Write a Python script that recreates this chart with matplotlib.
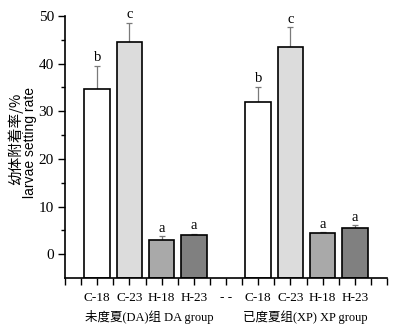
import matplotlib.pyplot as plt
import numpy as np

# larvae setting rate (%) for the two groups
treatments = ['C-18', 'C-23', 'H-18', 'H-23']
da_rate = [34.6, 44.5, 3.0, 4.0]
da_err = [5.0, 4.1, 0.8, 0.3]
da_sig = ['b', 'c', 'a', 'a']
xp_rate = [31.9, 43.4, 4.4, 5.6]
xp_err = [3.3, 4.3, 0.2, 0.5]
xp_sig = ['b', 'c', 'a', 'a']
bar_colors = ['white', '#dcdcdc', '#a9a9a9', '#808080']
group_names = ['未度夏(DA)组 DA group', '已度夏组(XP) XP group']

fig = plt.figure(figsize=(3.94, 3.30), dpi=100)
ax = fig.add_axes([65/394, 52/330, 322/394, 262/330])

serif = ['Liberation Serif', 'DejaVu Serif']
cjk = ['Liberation Serif', 'Noto Sans CJK SC']

ymin = -5
pos_da = np.arange(1, 5)
pos_xp = np.arange(6, 10)
for pos, vals, errs, sig in [(pos_da, da_rate, da_err, da_sig),
                             (pos_xp, xp_rate, xp_err, xp_sig)]:
    vals = np.array(vals)
    # bars start from the bottom of the axis
    ax.bar(pos, vals - ymin, width=0.8, bottom=ymin, color=bar_colors,
           edgecolor='black', linewidth=1.2, zorder=2)
    # upper error bars only
    ax.errorbar(pos, vals, yerr=[np.zeros(len(vals)), errs], fmt='none',
                ecolor='#7a7a7a', elinewidth=0.9, capsize=2.5,
                capthick=0.9, zorder=1)
    for p, v, e, s in zip(pos, vals, errs, sig):
        ax.text(p, v + e + 0.3, s, ha='center', va='bottom',
                fontsize=10.5, family=serif)

ax.set_xlim(0, 10)
ax.set_ylim(ymin, 50)
ax.set_yticks([0, 10, 20, 30, 40, 50])
ax.set_yticks([5, 15, 25, 35, 45], minor=True)
ax.set_xticks(np.arange(0, 10.01, 0.5))
labels = []
for t in np.arange(0, 10.01, 0.5):
    if t in pos_da:
        labels.append(treatments[int(t) - 1])
    elif t in pos_xp:
        labels.append(treatments[int(t) - 6])
    elif t == 5:
        labels.append('- -')
    else:
        labels.append('')
ax.set_xticklabels(labels)

for lab in ax.get_xticklabels() + ax.get_yticklabels():
    lab.set_family(serif)
ax.tick_params(axis='y', labelsize=11, direction='out', length=5, width=1, pad=3)
ax.tick_params(axis='y', which='minor', direction='out', length=3, width=1)
ax.tick_params(axis='x', labelsize=9.5, direction='out', length=5, width=1, pad=5)

ax.spines['top'].set_visible(False)
ax.spines['right'].set_visible(False)
for sp in ['left', 'bottom']:
    ax.spines[sp].set_linewidth(1.2)

fig.text(149/394, 1 - 317/330, group_names[0], ha='center', va='center',
         fontsize=9, family=cjk)
fig.text(305/394, 1 - 317/330, group_names[1], ha='center', va='center',
         fontsize=9, family=cjk)

fig.text(15/394, 1 - 139/330, '幼体附着率/%', rotation=90, ha='center',
         va='center', fontsize=10.5, family=['Noto Sans CJK SC', 'DejaVu Sans'])
fig.text(30/394, 1 - 142/330, 'larvae setting rate', rotation=90,
         ha='center', va='center', fontsize=10,
         family=['Liberation Sans', 'DejaVu Sans'])

fig.savefig('out.png', dpi=100)
